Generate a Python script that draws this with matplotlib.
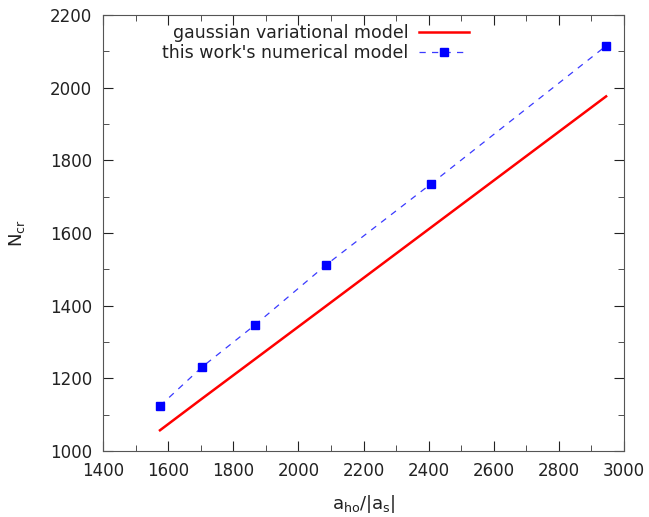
import matplotlib
matplotlib.use("Agg")
import matplotlib.pyplot as plt
from matplotlib.ticker import MultipleLocator

# datos
a_ratio = [1575, 1704, 1867, 2085, 2407, 2945]
n_gauss = [1057, 1144, 1253, 1399, 1615, 1976]
n_numerico = [1124, 1231, 1347, 1512, 1735, 2115]

plt.rcParams['font.family'] = 'DejaVu Sans'
plt.rcParams['font.size'] = 12

fig = plt.figure(figsize=(6.49, 5.17), dpi=100)
ax = fig.add_axes([0.1587, 0.1277, 0.8028, 0.8433])

ax.plot(a_ratio, n_gauss, color='#ff0000', lw=1.8, label='gaussian variational model')
ax.plot(a_ratio, n_numerico, color='#3a3aff', lw=0.9, ls=(0, (5, 5)),
        marker='s', ms=6, mfc='#0000ff', mec='#0000ff', label="this work's numerical model")

ax.set_xlim(1400, 3000)
ax.set_ylim(1000, 2200)
ax.xaxis.set_major_locator(MultipleLocator(200))
ax.xaxis.set_minor_locator(MultipleLocator(100))
ax.yaxis.set_major_locator(MultipleLocator(200))
ax.yaxis.set_minor_locator(MultipleLocator(100))
ax.tick_params(which='both', direction='in', top=True, right=True, color='#333333')
ax.tick_params(which='major', length=7, labelsize=12, colors='#222222')
ax.tick_params(axis='x', which='major', pad=8)
ax.tick_params(axis='y', which='major', pad=8)
ax.tick_params(which='minor', length=4)
for s in ax.spines.values():
    s.set_color('#555555')

ax.set_xlabel(r'a$_{\mathregular{ho}}$/|a$_{\mathregular{s}}$|', fontsize=13, color='#222222', labelpad=9)
ax.set_ylabel(r'N$_{\mathregular{cr}}$', fontsize=13, color='#222222', labelpad=16)

ax.legend(loc='upper left', bbox_to_anchor=(0.1, 0.995), frameon=False, markerfirst=False,
          handlelength=2.9, handletextpad=0.6, fontsize=12.5, borderaxespad=0,
          labelspacing=0.12, labelcolor='#222222')

fig.savefig('out.png', dpi=100)
